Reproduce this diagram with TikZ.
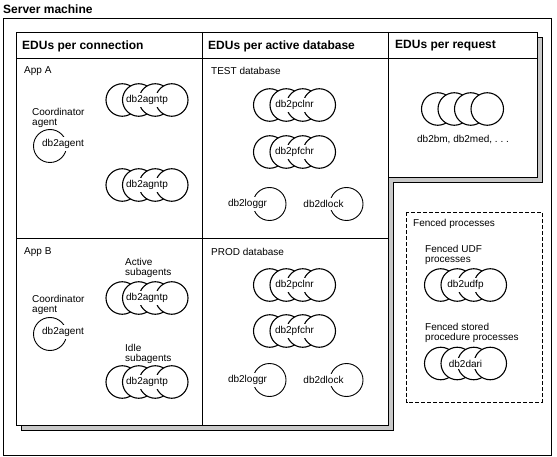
\documentclass[tikz,border=0pt]{standalone}
\usepackage{fontspec}
\setmainfont{Liberation Sans}
\newcommand\smallfnt{\fontsize{10}{10.5}\selectfont}
\newcommand\hdrfnt{\bfseries\fontsize{12}{13}\selectfont}
\definecolor{shadowgray}{RGB}{200,200,200}
\tikzset{
  frame/.style={draw=black, line width=0.9pt},
  shadowbox/.style={draw=black, line width=0.9pt, fill=shadowgray},
  ring/.style={circle, draw=black, fill=white, minimum size=32.5pt, inner sep=0pt, line width=1.1pt},
  bigring/.style={ring, minimum size=33pt, line width=0.9pt},
  lbl/.style={font=\smallfnt, inner xsep=0.5pt, inner ysep=2pt, fill=white},
  txt/.style={font=\smallfnt, inner sep=0pt, anchor=west, align=left},
  hdr/.style={font=\hdrfnt, inner sep=0pt, anchor=west},
  fencebox/.style={draw=black, line width=0.9pt, dash pattern=on 4pt off 2pt},
}
\newcommand\procgroup[4]{%
  \foreach \i in {0,1,2,3} {
    \node[ring] (#1-\i) at ({#2-24.75+16.5*\i},#3) {};
  }
  \node[lbl] (#1-l) at (#2,#3) {#4};
}
\newcommand\plaingroup[3]{%
  \foreach \i in {0,1,2,3} {
    \node[ring] (#1-\i) at ({#2-24.75+16.5*\i},#3) {};
  }
}
\begin{document}
\begin{tikzpicture}[x=1pt,y=-1pt]
\useasboundingbox (0,0) rectangle (557,457);
% outer machine box
\draw[frame] (3,18) rectangle (551,455);
\node[hdr] (server) at (3,9) {Server machine};
% shadow of the main box
\draw[shadowbox] (21.5,37.5) -- (542.5,37.5) -- (542.5,182.5) -- (393.5,182.5)
  -- (393.5,430.5) -- (21.5,430.5) -- cycle;
% main box
\draw[frame, fill=white] (16,32) -- (537,32) -- (537,177) -- (388,177)
  -- (388,425) -- (16,425) -- cycle;
\draw[frame] (16,58) -- (537,58);
\draw[frame] (202,32) -- (202,425);
\draw[frame] (388,32) -- (388,177);
\draw[frame] (16,238) -- (388,238);
% headers
\node[hdr] (h1) at (22,46) {EDUs per connection};
\node[hdr] (h2) at (208,46) {EDUs per active database};
\node[hdr] (h3) at (395,46) {EDUs per request};
% App A
\node[txt] (appa) at (24,71) {App A};
\procgroup{ga1}{147}{100}{db2agntp}
\node[txt] (coordA) at (32,118) {Coordinator\\agent};
\node[bigring] (agA) at (50,146) {};
\node[lbl] (agA-l) at (63,144) {db2agent};
\procgroup{ga2}{147}{185}{db2agntp}
% TEST database
\node[txt] (test) at (211,71) {TEST database};
\procgroup{tp}{294.5}{105}{db2pclnr}
\procgroup{tf}{294.5}{152}{db2pfchr}
\node[bigring] (tlog) at (269.5,204) {};
\node[lbl] (tlog-l) at (247.5,204) {db2loggr};
\node[bigring] (tlock) at (346.5,204) {};
\node[lbl] (tlock-l) at (323.5,204) {db2dlock};
% App B
\node[txt] (appb) at (24,252) {App B};
\node[txt] (active) at (125,268) {Active\\subagents};
\procgroup{gb1}{147}{298}{db2agntp}
\node[txt] (coordB) at (32,305) {Coordinator\\agent};
\node[bigring] (agB) at (50,334) {};
\node[lbl] (agB-l) at (63,332) {db2agent};
\node[txt] (idle) at (125,354) {Idle\\subagents};
\procgroup{gb2}{147}{382}{db2agntp}
% PROD database
\node[txt] (prod) at (211,252) {PROD database};
\procgroup{pp}{294.5}{285}{db2pclnr}
\procgroup{pf}{294.5}{331}{db2pfchr}
\node[bigring] (plog) at (269.5,380) {};
\node[lbl] (plog-l) at (247.5,380) {db2loggr};
\node[bigring] (plock) at (346.5,380) {};
\node[lbl] (plock-l) at (323.5,380) {db2dlock};
% per request
\plaingroup{rq}{462.5}{109}
\node[txt, anchor=center] (rq-l) at (463,140) {db2bm, db2med, .\ .\ .};
% fenced processes
\draw[fencebox] (406.5,212.5) rectangle (542,402);
\node[txt] (fenced) at (413,224) {Fenced processes};
\node[txt] (udft) at (425,255) {Fenced UDF\\processes};
\procgroup{fu}{465.5}{285}{db2udfp}
\node[txt] (sprt) at (425,333) {Fenced stored\\procedure processes};
\procgroup{fd}{465.5}{363.5}{db2dari}
\end{tikzpicture}
\end{document}
